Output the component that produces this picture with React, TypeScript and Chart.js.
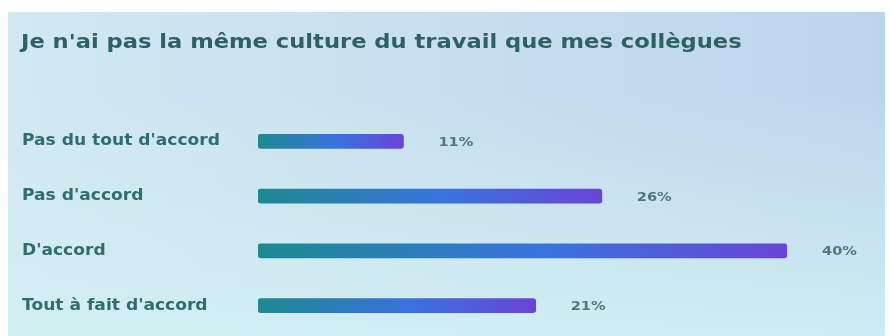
import React, { useEffect, useRef } from "react";
import { Chart, registerables } from "chart.js";

Chart.register(...registerables);

const title = "Je n'ai pas la même culture du travail que mes collègues";
const categories = ["Pas du tout d'accord", "Pas d'accord", "D'accord", "Tout à fait d'accord"];
const values = [11, 26, 40, 21];
const valueLabels = ["11%", "26%", "40%", "21%"];

function stretchedText(ctx: any, text: string, x: number, y: number, font: string, color: string, width: number) {
  ctx.save();
  ctx.font = font;
  ctx.fillStyle = color;
  ctx.textAlign = "left";
  ctx.textBaseline = "middle";
  const w = ctx.measureText(text).width;
  const sx = width / w;
  ctx.translate(x, y);
  ctx.scale(sx, 1);
  ctx.fillText(text, 0, 0);
  ctx.restore();
}

const textPlugin = {
  id: "texts",
  afterDatasetsDraw(chart: any) {
    const ctx = chart.ctx;
    const meta = chart.getDatasetMeta(0);
    const ys = chart.scales.y;
    // title: stretched to span as in the reference
    ctx.save();
    ctx.font = "bold 19px 'DejaVu Sans'";
    const tw = ctx.measureText(title).width;
    ctx.restore();
    stretchedText(ctx, title, 13, 31, "bold 19px 'DejaVu Sans'", "#2e6166", tw * 1.19);
    categories.forEach((c, i) => {
      ctx.save();
      ctx.font = "bold 15px 'DejaVu Sans'";
      const w = ctx.measureText(c).width;
      ctx.restore();
      stretchedText(ctx, c, 14, ys.getPixelForTick(i), "bold 15px 'DejaVu Sans'", "#2f6d71", w * 1.14);
    });
    meta.data.forEach((bar: any, i: number) => {
      ctx.save();
      ctx.font = "bold 13px 'DejaVu Sans'";
      const w = ctx.measureText(valueLabels[i]).width;
      ctx.restore();
      stretchedText(ctx, valueLabels[i], bar.x + 35, bar.y + 1, "bold 13px 'DejaVu Sans'", "#50777b", w * 1.12);
    });
  },
};

export default function App() {
  const ref = useRef<HTMLCanvasElement | null>(null);
  useEffect(() => {
    if (!ref.current) return;
    const chart = new Chart(ref.current, {
      type: "bar",
      data: {
        labels: categories,
        datasets: [
          {
            data: values,
            barThickness: 14,
            borderRadius: 3,
            borderSkipped: false,
            backgroundColor: (c: any) => {
              const ch = c.chart;
              const xs = ch.scales.x;
              if (!xs || c.parsed == null) return "#3a73dd";
              const x0 = xs.getPixelForValue(0);
              const x1 = xs.getPixelForValue(c.parsed.x);
              if (!isFinite(x0) || !isFinite(x1) || x1 <= x0) return "#3a73dd";
              const g = ch.ctx.createLinearGradient(x0, 0, x1, 0);
              g.addColorStop(0, "#1d8a92");
              g.addColorStop(0.55, "#3a72de");
              g.addColorStop(1, "#6a44d6");
              return g;
            },
          },
        ],
      },
      options: {
        indexAxis: "y",
        animation: false,
        responsive: false,
        maintainAspectRatio: false,
        layout: { padding: { left: 14, right: 106, top: 102, bottom: 3 } },
        plugins: {
          legend: { display: false },
          tooltip: { enabled: false },
          title: { display: false },
        },
        scales: {
          x: { display: false, min: 0, max: 40 },
          y: {
            grid: { display: false },
            border: { display: false },
            ticks: { display: false },
            afterFit: (s: any) => {
              s.width = 236;
            },
          },
        },
      },
      plugins: [textPlugin],
    } as any);
    return () => chart.destroy();
  }, []);

  return (
    <div
      style={{
        marginTop: 4,
        width: 885,
        height: 324,
        background:
          "linear-gradient(to bottom, rgba(205,240,241,0) 25%, rgba(210,240,242,0.85) 100%), linear-gradient(to right, #d1e9f1 0%, #bdd5ec 100%)",
        overflow: "hidden",
      }}
    >
      <canvas ref={ref} width={885} height={324} style={{ display: "block" }} />
    </div>
  );
}
